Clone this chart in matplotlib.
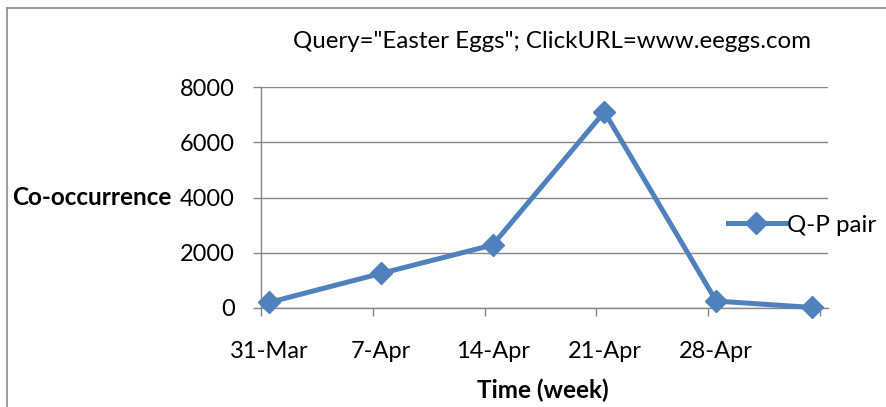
import numpy as np
import matplotlib
matplotlib.use("Agg")
import matplotlib.pyplot as plt
import matplotlib.dates as mdates
from matplotlib.lines import Line2D

# data (weekly co-occurrence counts)
weeks = np.array(['2006-03-31', '2006-04-07', '2006-04-14', '2006-04-21',
                  '2006-04-28', '2006-05-04'], dtype='datetime64[D]')
counts = [200, 1250, 2280, 7100, 250, 20]

tick_dates = np.array(['2006-03-31', '2006-04-07', '2006-04-14', '2006-04-21',
                       '2006-04-28', '2006-05-05'], dtype='datetime64[D]')
tick_labels = ['31-Mar', '7-Apr', '14-Apr', '21-Apr', '28-Apr', '']

title = 'Query="Easter Eggs"; ClickURL=www.eeggs.com'
series_name = 'Q-P pair'

plt.rcParams['font.family'] = ['Lato', 'DejaVu Sans']

W, H = 887, 407
fig = plt.figure(figsize=(W / 100, H / 100), dpi=100)
ax = fig.add_axes([261 / W, 1 - 308 / H, 567 / W, 221 / H])

blue = '#4F81BD'
grey = '#868686'

# points sit in the middle of their day on the date axis
xs = mdates.date2num(weeks) + 0.5
ax.plot(xs, counts, color=blue, lw=3.6, marker='D', ms=11,
        solid_joinstyle='miter', label=series_name, clip_on=False, zorder=3)

ax.set_xlim(mdates.date2num(tick_dates[0]), mdates.date2num(tick_dates[-1]))
ax.set_ylim(0, 8000)
ax.set_yticks([0, 2000, 4000, 6000, 8000])
# tick marks on the dates, labels centred on the day
ax.set_xticks(mdates.date2num(tick_dates))
ax.set_xticklabels([])
ax.set_xticks(mdates.date2num(tick_dates) + 0.5, minor=True)
ax.set_xticklabels(tick_labels, minor=True)

ax.grid(axis='y', color=grey, lw=1)
ax.set_axisbelow(True)
for s in ['top', 'right']:
    ax.spines[s].set_visible(False)
for s in ['left', 'bottom']:
    ax.spines[s].set_color(grey)
    ax.spines[s].set_linewidth(1)
ax.tick_params(direction='out', length=6, width=1, color=grey, labelsize=17)
ax.tick_params(axis='y', pad=13)
ax.tick_params(axis='x', which='minor', length=0, pad=24, labelsize=17)

ax.set_ylabel('Co-occurrence', fontsize=17.5, fontweight='bold', rotation=0,
              ha='right', va='center')
ax.yaxis.set_label_coords(-0.157, 0.5)
ax.set_xlabel('Time (week)', fontsize=17.5, fontweight='bold', va='center')
ax.xaxis.set_label_coords(0.497, -0.371)

fig.text(552 / W, 1 - 42 / H, title, fontsize=17.4, ha='center', va='center')

ax.legend(loc='center left', bbox_to_anchor=(728 / W, 1 - 225 / H),
          bbox_transform=fig.transFigure, frameon=False, fontsize=17.4,
          handlelength=2.35, handletextpad=0.1, borderpad=0, borderaxespad=0)

# chart border (left and top edges visible)
fig.add_artist(Line2D([7 / W, 7 / W], [0, 1 - 8 / H], color='#8c8c8c', lw=1.2,
                      transform=fig.transFigure))
fig.add_artist(Line2D([7 / W, 1], [1 - 8 / H, 1 - 8 / H], color='#8c8c8c', lw=1.2,
                      transform=fig.transFigure))

fig.savefig('out.png', dpi=100)
